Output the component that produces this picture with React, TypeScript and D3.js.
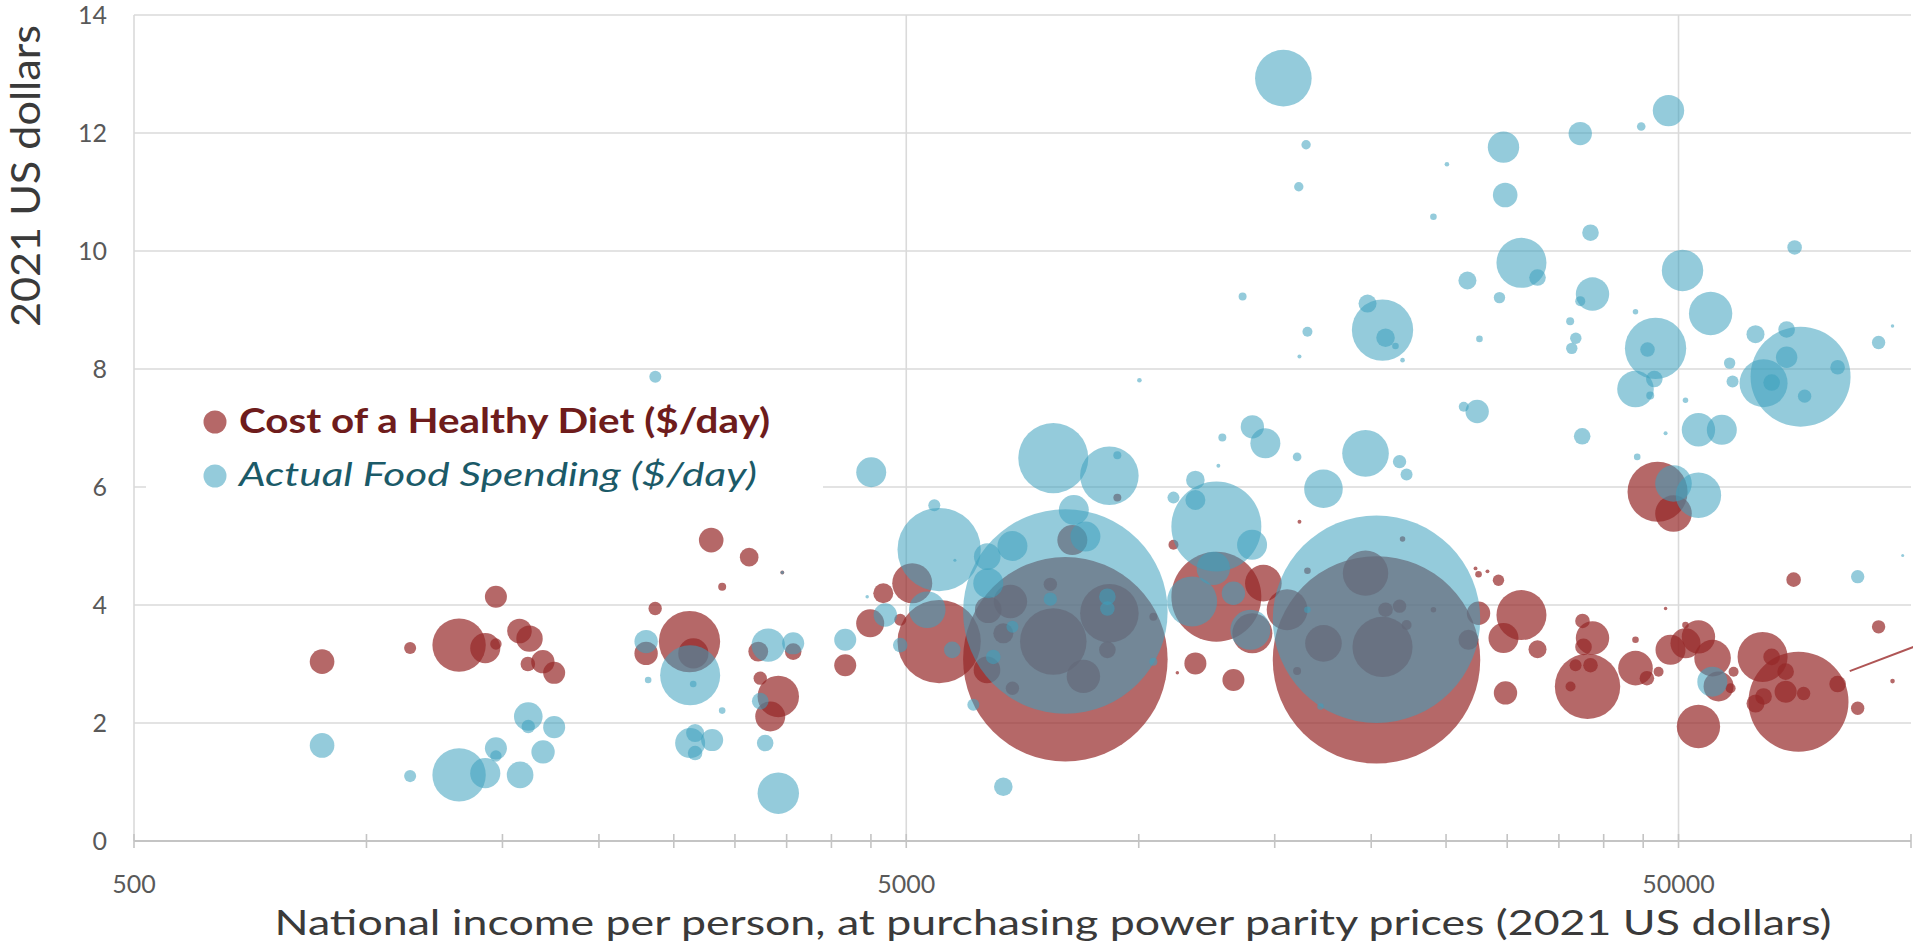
import React from 'react';
import * as d3 from 'd3';

// Each point: [national income per person (2021 PPP $), $/day, population (millions)]
const healthyDietCost: [number, number, number][] = [
  [876, 3.04, 20], [1139, 3.27, 4.8], [1318, 3.32, 94], [1425, 3.27, 30], [1471, 3.34, 4.3],
  [1471, 4.14, 16], [1578, 3.56, 20], [1626, 3.43, 23], [1618, 3.0, 7], [1692, 3.04, 18],
  [1750, 2.85, 16], [2795, 5.1, 20], [3130, 4.81, 11.5], [2888, 4.31, 2.1], [2365, 3.94, 5.9],
  [2620, 3.38, 124], [2650, 3.18, 30], [2302, 3.18, 18], [3216, 3.21, 13], [3235, 2.76, 5.9],
  [3414, 2.45, 56.6], [3333, 2.11, 29.7], [3569, 3.21, 9.1], [4168, 2.98, 16], [4490, 3.69, 25.9],
  [4669, 4.2, 13.2], [4911, 3.75, 4.75], [5090, 4.37, 52.8], [5515, 3.38, 229], [3455, 4.55, 0.5],
  [7751, 3.38, 146], [9162, 3.86, 113], [8204, 5.1, 29.7], [8479, 2.79, 36.8], [6821, 4.06, 36.8],
  [6385, 3.92, 23.4], [6678, 3.52, 13.2], [7683, 4.35, 5.9], [9107, 3.24, 9.1], [6862, 2.59, 5.9],
  [6360, 2.9, 23.4], [10447, 3.8, 2.1], [8035, 3.08, 1380], [11091, 5.02, 3.3], [11840, 3.01, 16],
  [13262, 2.73, 16], [12604, 4.14, 267], [14033, 3.52, 52.8], [14500, 4.37, 44.2], [11220, 2.85, 0.4],
  [9382, 5.82, 2.1], [20318, 3.07, 1420], [19664, 4.54, 68], [20686, 3.29, 119], [17346, 3.35, 44.2],
  [15565, 3.92, 55], [16537, 4.58, 1.44], [16035, 2.88, 2.1], [20873, 3.92, 7], [21764, 3.98, 5.9],
  [22223, 3.66, 3.3], [21958, 5.12, 1.0], [24077, 3.92, 1.0], [26730, 3.41, 13.2], [27542, 3.86, 18],
  [31303, 3.83, 82.5], [29670, 3.44, 29.7], [32838, 3.25, 10.7], [29229, 4.42, 4.3], [27542, 4.52, 1.44],
  [29848, 2.51, 18], [38119, 2.62, 141], [37550, 3.73, 7], [38689, 3.44, 36.8], [37663, 3.29, 9.1],
  [38457, 2.98, 7], [36781, 2.98, 4.75], [43979, 2.93, 39.5], [47109, 2.87, 3.3], [45500, 2.76, 7],
  [48817, 3.24, 29.7], [51047, 3.35, 29.7], [53060, 3.46, 36.8], [55340, 3.1, 44.2], [56340, 2.62, 29.7],
  [58400, 2.59, 3.3], [58920, 2.87, 3.3], [53060, 1.94, 62], [46971, 5.92, 119], [49256, 5.55, 44.2],
  [64240, 3.12, 82.5], [66000, 3.12, 9.1], [70470, 4.43, 7], [62900, 2.33, 10.7], [64430, 2.45, 9.1],
  [71500, 2.36, 330], [68810, 2.53, 16], [68810, 2.87, 9.1], [72600, 2.5, 5.9], [80350, 2.66, 9.1],
  [85300, 2.25, 5.9], [90790, 3.63, 5.9], [94640, 2.71, 0.7], [36235, 2.62, 3.3], [28287, 4.57, 0.5],
  [27295, 4.62, 0.5], [48107, 3.94, 0.4], [43979, 3.41, 1.44], [51047, 3.66, 1.44], [16148, 5.41, 0.5],
];

const actualFoodSpending: [number, number, number][] = [
  [876, 1.62, 20], [1139, 1.1, 4.8], [1318, 1.12, 94], [1425, 1.15, 30], [1471, 1.57, 16],
  [1471, 1.44, 4.3], [1620, 2.11, 27], [1620, 1.94, 5.9], [1750, 1.93, 16], [1693, 1.51, 18],
  [1581, 1.12, 23.4], [2302, 3.38, 18], [2316, 2.73, 1.44], [2625, 2.81, 119], [2649, 2.66, 1.44],
  [2888, 2.21, 1.44], [2625, 1.66, 29.7], [2664, 1.83, 10.7], [2803, 1.71, 16], [2664, 1.49, 7],
  [3414, 0.81, 56.6], [2366, 7.87, 4.75], [3313, 3.32, 36.8], [3235, 2.37, 9.1], [3283, 1.66, 9.1],
  [3569, 3.35, 16], [4168, 3.41, 16], [4504, 6.25, 29.7], [4697, 3.83, 18], [5323, 3.92, 44.2],
  [4911, 3.32, 7], [5436, 5.69, 4.75], [5515, 4.94, 229], [5735, 3.24, 9.1], [6481, 3.12, 7],
  [6862, 3.63, 4.75], [6107, 2.31, 4.75], [6678, 0.92, 11.4], [6862, 5.0, 29.7], [6366, 4.82, 23.4],
  [6385, 4.37, 29.7], [7751, 6.49, 162], [9162, 6.19, 113], [9382, 6.54, 2.1], [8240, 5.61, 29.7],
  [8530, 5.16, 29.7], [7683, 4.1, 5.9], [9107, 4.14, 9.1], [9107, 3.94, 7], [10447, 3.04, 2.1],
  [8035, 3.89, 1380], [11840, 6.12, 11.4], [11091, 5.82, 4.75], [11840, 5.78, 13.2], [12604, 5.33, 267],
  [14020, 5.02, 29.7], [14033, 7.02, 18], [14587, 6.74, 29.7], [12831, 6.84, 2.1], [11725, 4.06, 82.5],
  [13262, 4.2, 18], [13950, 3.58, 52.8], [12490, 4.62, 36.8], [19664, 6.57, 71.7], [17346, 5.97, 49.2],
  [21764, 6.43, 5.9], [22223, 6.21, 4.75], [16035, 6.51, 2.45], [27430, 7.28, 18], [26355, 7.36, 3.3],
  [37515, 6.86, 9.1], [44205, 6.51, 1.44], [43979, 7.66, 44.2], [49256, 6.06, 44.2], [53060, 5.86, 68],
  [53060, 6.97, 36.8], [56890, 6.97, 29.7], [48107, 6.91, 0.53], [51047, 7.47, 1.0], [55300, 2.7, 29.7],
  [20318, 3.76, 1420], [16537, 3.92, 1.44], [17195, 2.28, 1.44], [15391, 12.93, 105.7], [16470, 11.8, 2.9],
  [16115, 11.09, 2.9], [25065, 11.47, 0.7], [24077, 10.58, 1.44], [13630, 9.23, 2.1], [16537, 8.63, 3.3],
  [16148, 8.21, 0.53], [20686, 8.66, 124], [19782, 9.11, 10.7], [20873, 8.53, 11.4], [21500, 8.39, 1.44],
  [21958, 8.15, 0.7], [26646, 9.5, 10.7], [27619, 8.51, 1.44], [10020, 7.81, 0.7], [48526, 12.38, 32.5],
  [44737, 12.11, 2.45], [37300, 11.99, 18], [29670, 11.76, 32.5], [29820, 10.95, 20], [38457, 10.31, 9.1],
  [70680, 10.06, 7], [31303, 9.8, 82.5], [32838, 9.55, 9.1], [29317, 9.21, 4.3], [38689, 9.27, 36.8],
  [37300, 9.15, 3.3], [50600, 9.67, 56.6], [55020, 8.94, 62], [43979, 8.97, 1.0], [36195, 8.81, 2.1],
  [36810, 8.52, 4.3], [36370, 8.35, 4.3], [46692, 8.35, 124], [45585, 8.33, 7], [62900, 8.59, 10.7],
  [69020, 8.67, 9.1], [94640, 8.73, 0.4], [90790, 8.45, 5.9], [71940, 7.87, 330], [64430, 7.76, 76],
  [69020, 8.2, 15.1], [80350, 8.03, 7], [72820, 7.54, 5.9], [66000, 7.77, 9.1], [58230, 8.1, 4.3],
  [58740, 7.79, 4.75], [46515, 7.83, 9.1], [45955, 7.55, 2.1], [85300, 4.48, 5.9], [97550, 4.84, 0.3],
  [3455, 4.55, 0.4], [12680, 6.36, 0.5], [4450, 4.14, 0.4], [5780, 4.76, 0.3],
];

const yTicks = [0, 2, 4, 6, 8, 10, 12, 14];
const xMajorTicks = [500, 5000, 50000];
const xMinorMultipliers = [2, 3, 4, 5, 6, 7, 8, 9];
const legendLabels = ['Cost of a Healthy Diet ($/day)', 'Actual Food Spending ($/day)'];
const xTitle = 'National income per person, at purchasing power parity prices (2021 US dollars)';
const yTitle = '2021 US dollars';
const leaderLine: [number, number][] = [[83300, 2.88], [115900, 3.59]];

const W = 1913;
const H = 951;
const FONT = 'Lato, "Open Sans", sans-serif';

export default function App() {
  const x = d3.scaleLog().domain([500, 100000]).range([134, 1911]);
  const y = d3.scaleLinear().domain([0, 14]).range([841, 15]);
  const r = d3.scaleSqrt().domain([0, 1400]).range([0, 103]);

  const minorTicks: number[] = [];
  xMajorTicks.forEach((b) => {
    minorTicks.push(b);
    xMinorMultipliers.forEach((m) => {
      const v = b * m;
      if (v <= 100000) minorTicks.push(v);
    });
  });

  const sortBig = (a: [number, number, number][]) => [...a].sort((p, q) => q[2] - p[2]);
  const redFill = 'rgb(150,40,40)';
  const blueFill = 'rgb(60,160,190)';
  const x0 = x(500);
  const x1 = x(100000);
  const line = d3.line<[number, number]>().x((d) => x(d[0])).y((d) => y(d[1]));

  return (
    <svg
      width={W}
      height={H}
      viewBox={`0 0 ${W} ${H}`}
      style={{ position: 'absolute', left: 0, top: 0, display: 'block', background: '#fff' }}
      fontFamily={FONT}
    >
      <rect x={0} y={0} width={W} height={H} fill="#fff" />
      {/* horizontal gridlines */}
      {yTicks.filter((t) => t > 0).map((t) => (
        <line key={'g' + t} x1={x0} x2={x1} y1={y(t)} y2={y(t)} stroke="#dadada" strokeWidth={1.6} />
      ))}
      {/* vertical gridlines */}
      {xMajorTicks.map((t) => (
        <line key={'v' + t} x1={x(t)} x2={x(t)} y1={y(14)} y2={y(0)} stroke="#dadada" strokeWidth={1.6} />
      ))}
      {/* legend background */}
      <rect x={146} y={392} width={677} height={110} fill="#fff" />
      {/* x axis */}
      <line x1={x0} x2={x1} y1={y(0)} y2={y(0)} stroke="#c4c4c4" strokeWidth={2} />
      {minorTicks.map((t) => (
        <line key={'t' + t} x1={x(t)} x2={x(t)} y1={y(0) - 7} y2={y(0) + 7} stroke="#c4c4c4" strokeWidth={1.6} />
      ))}
      {/* bubbles */}
      <g>
        {sortBig(healthyDietCost).map((d, i) => (
          <circle key={'c' + i} cx={x(d[0])} cy={y(d[1])} r={r(d[2])} fill={redFill} fillOpacity={0.7} />
        ))}
      </g>
      <g>
        {sortBig(actualFoodSpending).map((d, i) => (
          <circle key={'s' + i} cx={x(d[0])} cy={y(d[1])} r={r(d[2])} fill={blueFill} fillOpacity={0.55} />
        ))}
      </g>
      <path d={line(leaderLine) || ''} stroke="rgb(175,85,85)" strokeWidth={2} fill="none" />
      {/* y tick labels */}
      {yTicks.map((t) => (
        <text key={'yl' + t} x={107} y={y(t)} dy="0.36em" textAnchor="end" fontSize={25} fill="#595959">
          {t}
        </text>
      ))}
      {/* x tick labels */}
      {xMajorTicks.map((t) => (
        <text key={'xl' + t} x={x(t)} y={893} textAnchor="middle" fontSize={25} fill="#595959">
          {t}
        </text>
      ))}
      {/* axis titles */}
      <text x={1053} y={935} textAnchor="middle" fontSize={35} fill="#3a3a3a" textLength={1557} lengthAdjust="spacingAndGlyphs">
        {xTitle}
      </text>
      <text
        transform="translate(40,176) rotate(-90)"
        textAnchor="middle"
        fontSize={40}
        fill="#3a3a3a"
        textLength={302}
        lengthAdjust="spacingAndGlyphs"
      >
        {yTitle}
      </text>
      {/* legend */}
      <circle cx={215} cy={422} r={11.5} fill={redFill} fillOpacity={0.7} />
      <text x={239} y={433} fontSize={34} fontWeight="bold" fill="#6e1c1c" textLength={531} lengthAdjust="spacingAndGlyphs">
        {legendLabels[0]}
      </text>
      <circle cx={215} cy={476} r={11.5} fill={blueFill} fillOpacity={0.55} />
      <text x={239} y={486} fontSize={33} fontStyle="italic" fill="#1b5a68" textLength={518} lengthAdjust="spacingAndGlyphs">
        {legendLabels[1]}
      </text>
    </svg>
  );
}
